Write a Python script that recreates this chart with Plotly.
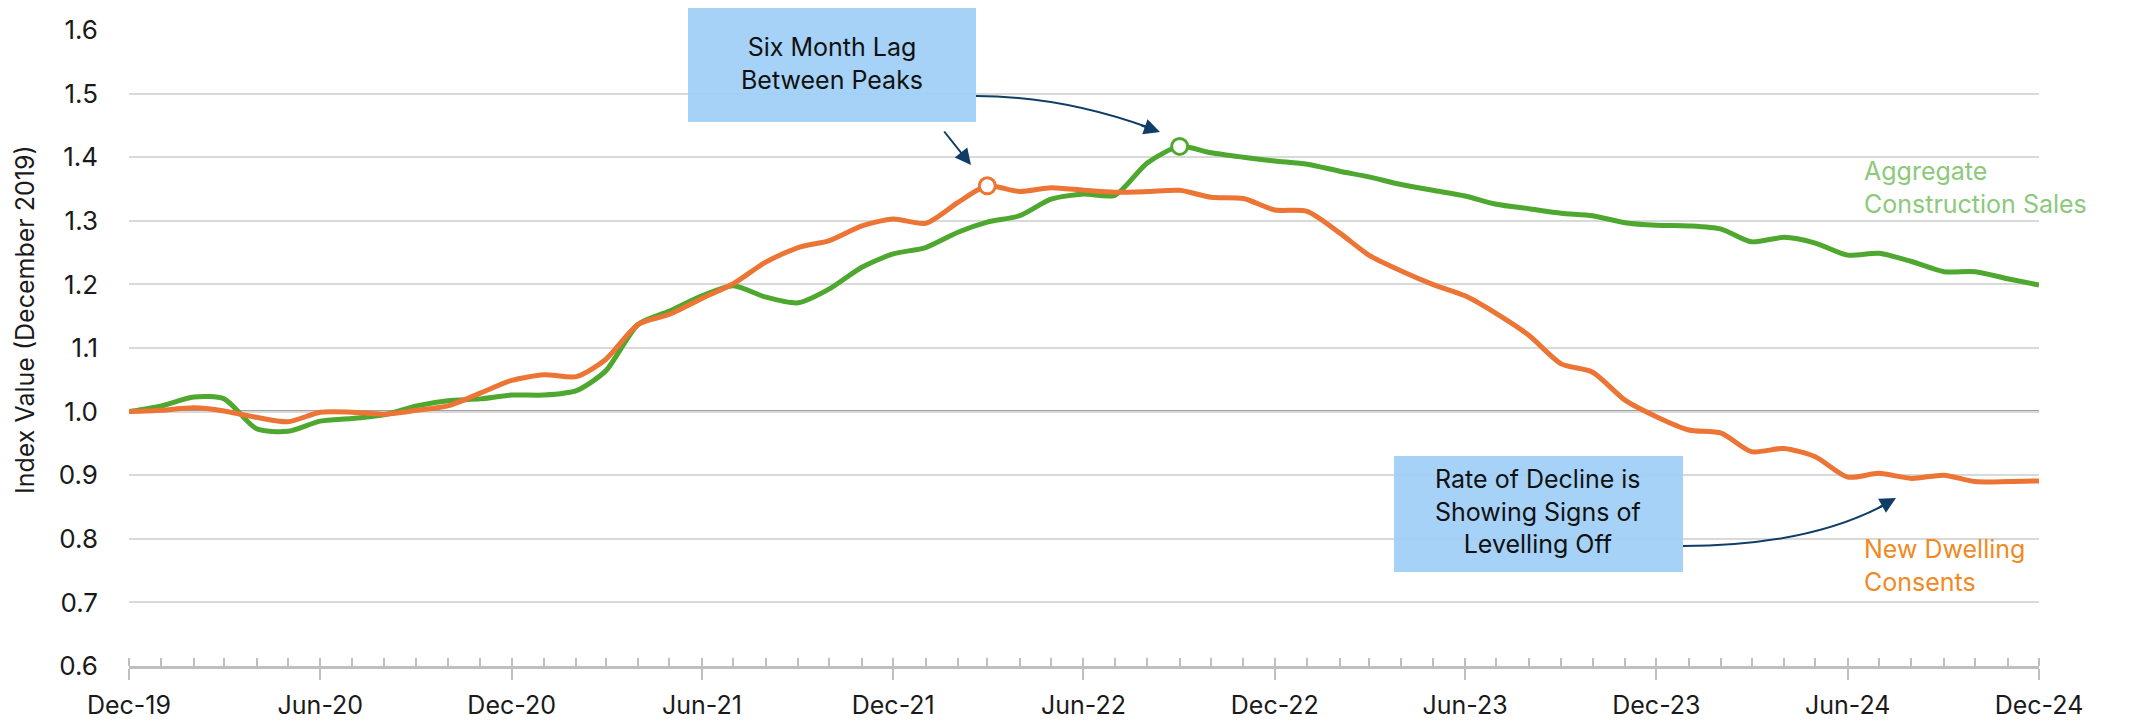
import pandas as pd
import plotly.graph_objects as go

# monthly index values, Dec-19 .. Dec-24 (Dec 2019 = 1.0)
months = pd.date_range("2019-12-01", "2024-12-01", freq="MS")

construction_sales = [
    1.000, 1.009, 1.023, 1.020, 0.973, 0.969, 0.985, 0.989, 0.995, 1.009,
    1.017, 1.020, 1.026, 1.026, 1.033, 1.064, 1.137, 1.158, 1.182, 1.198,
    1.180, 1.171, 1.193, 1.227, 1.248, 1.258, 1.282, 1.298, 1.308, 1.334,
    1.342, 1.340, 1.391, 1.417, 1.407, 1.400, 1.394, 1.389, 1.378, 1.369,
    1.357, 1.348, 1.339, 1.326, 1.319, 1.312, 1.308, 1.297, 1.293, 1.292,
    1.287, 1.267, 1.274, 1.265, 1.246, 1.249, 1.236, 1.220, 1.220, 1.209,
    1.199,
]

dwelling_consents = [
    1.000, 1.002, 1.006, 1.001, 0.991, 0.984, 0.999, 0.999, 0.996, 1.002,
    1.009, 1.029, 1.049, 1.058, 1.055, 1.082, 1.137, 1.153, 1.178, 1.201,
    1.235, 1.258, 1.269, 1.292, 1.303, 1.296, 1.329, 1.355, 1.346, 1.352,
    1.348, 1.345, 1.346, 1.348, 1.337, 1.335, 1.317, 1.315, 1.281, 1.246,
    1.221, 1.200, 1.182, 1.154, 1.120, 1.075, 1.062, 1.018, 0.992, 0.971,
    0.966, 0.937, 0.942, 0.929, 0.897, 0.903, 0.895, 0.900, 0.890, 0.890,
    0.891,
]

tick_dates = pd.date_range("2019-12-01", "2024-12-01", freq="6MS")
tick_labels = ["Dec-19", "Jun-20", "Dec-20", "Jun-21", "Dec-21", "Jun-22",
               "Dec-22", "Jun-23", "Dec-23", "Jun-24", "Dec-24"]

y_ticks = [0.6, 0.7, 0.8, 0.9, 1.0, 1.1, 1.2, 1.3, 1.4, 1.5, 1.6]

GREEN = "#4ea72e"
ORANGE = "#ec7434"
NAVY = "#0f3d66"
BOX = "rgba(160,208,245,0.95)"
FONT = "Inter"

W, H = 2150, 728
OFF = 8  # page body margin
# plot area on the page: x 129..2039, y 30..666
L, R, T, B = 129 - OFF, 111 + OFF, 30 - OFF, 62 + OFF


def px(x):
    return (x - 129) / (2039 - 129)


def py(y):
    return (666 - y) / (666 - 30)


fig = go.Figure()

fig.add_trace(go.Scatter(
    x=months, y=construction_sales, mode="lines", name="Aggregate Construction Sales",
    line=dict(color=GREEN, width=5, shape="spline", smoothing=0.7),
))
fig.add_trace(go.Scatter(
    x=months, y=dwelling_consents, mode="lines", name="New Dwelling Consents",
    line=dict(color=ORANGE, width=5, shape="spline", smoothing=0.7),
))

# hollow markers at the two peaks
i_o = dwelling_consents.index(max(dwelling_consents))
i_g = construction_sales.index(max(construction_sales))
fig.add_trace(go.Scatter(
    x=[months[i_o]], y=[dwelling_consents[i_o]], mode="markers",
    marker=dict(size=16, color="white", line=dict(color=ORANGE, width=3)),
))
fig.add_trace(go.Scatter(
    x=[months[i_g]], y=[construction_sales[i_g]], mode="markers",
    marker=dict(size=16, color="white", line=dict(color=GREEN, width=3)),
))

shapes = [
    # baseline at 1.0
    dict(type="line", xref="paper", x0=0, x1=1, yref="y", y0=1.0, y1=1.0,
         line=dict(color="#7f7f7f", width=2.5), layer="below"),
    # callout boxes
    dict(type="rect", xref="paper", yref="paper",
         x0=px(688), x1=px(976), y0=py(122), y1=py(7),
         fillcolor=BOX, line=dict(width=0), layer="above"),
    dict(type="rect", xref="paper", yref="paper",
         x0=px(1394), x1=px(1683), y0=py(572), y1=py(456),
         fillcolor=BOX, line=dict(width=0), layer="above"),
    # curved arrow bodies
    dict(type="path", xref="paper", yref="paper",
         path=f"M {px(976)},{py(96)} Q {px(1062)},{py(96)} {px(1150)},{py(128)}",
         line=dict(color=NAVY, width=2)),
    dict(type="path", xref="paper", yref="paper",
         path=f"M {px(1683)},{py(546)} Q {px(1810)},{py(546)} {px(1888)},{py(503)}",
         line=dict(color=NAVY, width=2)),
]

annotations = [
    dict(text="Six Month Lag<br>Between Peaks", xref="paper", yref="paper",
         x=px(832), y=py(63), xanchor="center", yanchor="middle", showarrow=False,
         font=dict(family=FONT, size=25, color="#111111")),
    dict(text="Rate of Decline is<br>Showing Signs of<br>Levelling Off", xref="paper", yref="paper",
         x=px(1538), y=py(512), xanchor="center", yanchor="middle", showarrow=False,
         font=dict(family=FONT, size=25, color="#111111")),
    # arrow heads
    dict(text="", xref="paper", yref="paper", x=px(971), y=py(165), ax=-28, ay=-35,
         showarrow=True, arrowhead=2, arrowsize=1.6, arrowwidth=2, arrowcolor=NAVY),
    dict(text="", xref="paper", yref="paper", x=px(1160), y=py(132), ax=-20, ay=-7,
         showarrow=True, arrowhead=2, arrowsize=1.6, arrowwidth=2, arrowcolor=NAVY),
    dict(text="", xref="paper", yref="paper", x=px(1896), y=py(498), ax=-18, ay=10,
         showarrow=True, arrowhead=2, arrowsize=1.6, arrowwidth=2, arrowcolor=NAVY),
    # series labels
    dict(text="Aggregate<br>Construction Sales", xref="paper", yref="paper",
         x=px(1862), y=py(188), xanchor="left", yanchor="middle", align="left",
         showarrow=False, font=dict(family=FONT, size=25, color="#8cc97a")),
    dict(text="New Dwelling<br>Consents", xref="paper", yref="paper",
         x=px(1862), y=py(565), xanchor="left", yanchor="middle", align="left",
         showarrow=False, font=dict(family=FONT, size=25, color="#f08a24")),
    # y axis title
    dict(text="Index Value (December 2019)", xref="paper", yref="paper",
         x=px(25), y=py(320), xanchor="center", yanchor="middle", textangle=-90,
         showarrow=False, font=dict(family=FONT, size=25, color="#1a1a1a")),
]

fig.update_layout(
    width=W, height=H,
    margin=dict(l=L, r=R, t=T, b=B),
    paper_bgcolor="white", plot_bgcolor="white",
    showlegend=False,
    font=dict(family=FONT, size=24, color="#1a1a1a"),
    shapes=shapes,
    annotations=annotations,
)

fig.update_xaxes(
    range=[months[0], months[-1]], automargin=False,
    tickvals=tick_dates, ticktext=tick_labels,
    showgrid=False, zeroline=False,
    showline=True, linecolor="#bfbfbf", linewidth=3,
    ticks="outside", ticklen=11, tickwidth=2, tickcolor="#bfbfbf",
    minor=dict(dtick="M1", tick0="2019-12-01", ticks="inside", ticklen=8,
               tickwidth=2, tickcolor="#bfbfbf", showgrid=False),
    tickfont=dict(size=25, color="#1a1a1a"),
    ticklabelstandoff=4,
)

fig.update_yaxes(
    range=[0.6, 1.6], tickvals=y_ticks, tickformat=".1f", automargin=False,
    showgrid=True, gridcolor="#d9d9d9", gridwidth=1.5,
    zeroline=False, showline=False, ticks="",
    tickfont=dict(size=26, color="#1a1a1a"),
    ticklabelstandoff=30,
)

fig.write_html("out.html")
